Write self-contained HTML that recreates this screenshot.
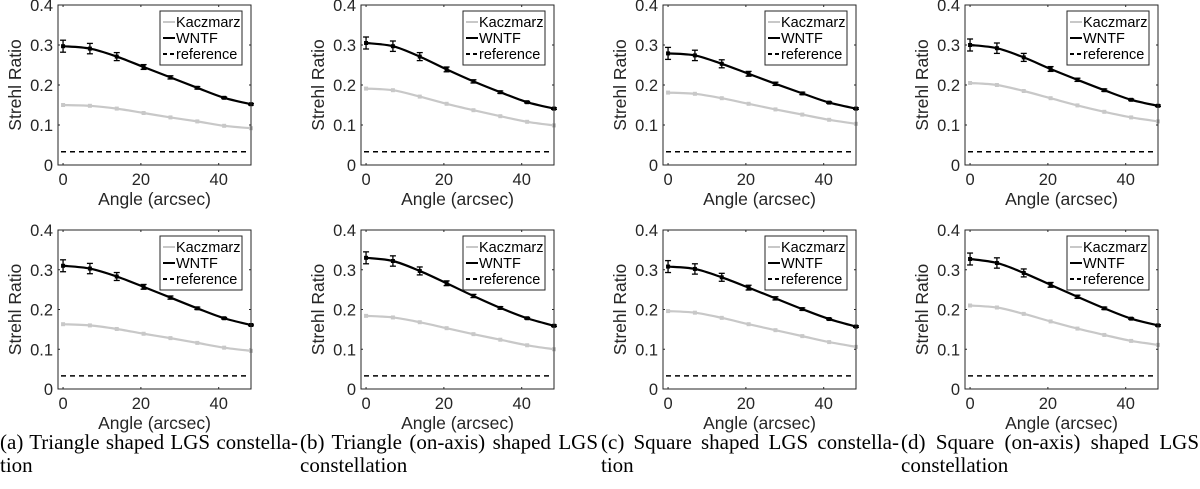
<!DOCTYPE html>
<html><head><meta charset="utf-8"><style>
body{margin:0;width:1200px;height:489px;background:#fff;overflow:hidden;position:relative}
svg{position:absolute;left:0;top:0}
.cap{position:absolute;width:298px;font-family:"Liberation Serif",serif;font-size:21px;line-height:23px;color:#000}
.cap .l1{text-align:justify;text-align-last:justify;white-space:nowrap;display:block}
.cap .l2{display:block}
</style></head><body>
<svg id="chart" width="1200" height="489"></svg>
<div class="cap" style="left:0;top:431px"><span class="l1">(a) Triangle shaped LGS constella-</span><span class="l2">tion</span></div>
<div class="cap" style="left:300px;top:431px"><span class="l1">(b) Triangle (on-axis) shaped LGS</span><span class="l2">constellation</span></div>
<div class="cap" style="left:601px;top:431px"><span class="l1">(c) Square shaped LGS constella-</span><span class="l2">tion</span></div>
<div class="cap" style="left:901px;top:431px"><span class="l1">(d) Square (on-axis) shaped LGS</span><span class="l2">constellation</span></div>
<script>
const angles=[0,6.9,13.8,20.7,27.6,34.5,41.4,48.3];
const xTicks=[0,20,40];
const yTicks=[0,0.1,0.2,0.3,0.4];
const yTickLabels=["0","0.1","0.2","0.3","0.4"];
const refValue=0.033;
const wntfA1=[.297,.291,.271,.245,.219,.193,.168,.152];
const kaczA1=[.150,.148,.141,.130,.119,.109,.098,.092];
const wntfB1=[.305,.297,.271,.239,.209,.182,.157,.141];
const kaczB1=[.191,.187,.171,.153,.137,.122,.108,.099];
const wntfC1=[.279,.274,.253,.228,.203,.179,.156,.141];
const kaczC1=[.181,.178,.167,.153,.139,.126,.113,.103];
const wntfD1=[.300,.292,.269,.240,.213,.187,.163,.148];
const kaczD1=[.205,.200,.185,.167,.149,.133,.119,.109];
const wntfA2=[.310,.303,.283,.257,.230,.203,.178,.161];
const kaczA2=[.163,.160,.151,.139,.128,.116,.104,.096];
const wntfB2=[.330,.322,.297,.266,.234,.204,.178,.159];
const kaczB2=[.184,.180,.168,.153,.138,.124,.110,.100];
const wntfC2=[.308,.302,.281,.255,.228,.201,.176,.157];
const kaczC2=[.196,.192,.179,.163,.148,.133,.118,.106];
const wntfD2=[.327,.317,.292,.262,.232,.203,.177,.160];
const kaczD2=[.210,.205,.189,.170,.152,.136,.121,.111];
const errW=[.015,.013,.010,.006,.004,.003,.002,.002];
const panels=[
 {id:'a1',L:58,T:5,B:165,w:wntfA1,k:kaczA1},{id:'b1',L:361,T:5,B:165,w:wntfB1,k:kaczB1},
 {id:'c1',L:663,T:5,B:165,w:wntfC1,k:kaczC1},{id:'d1',L:965,T:5,B:165,w:wntfD1,k:kaczD1},
 {id:'a2',L:58,T:230,B:389,w:wntfA2,k:kaczA2},{id:'b2',L:361,T:230,B:389,w:wntfB2,k:kaczB2},
 {id:'c2',L:663,T:230,B:389,w:wntfC2,k:kaczC2},{id:'d2',L:965,T:230,B:389,w:wntfD2,k:kaczD2}];
const svg=document.getElementById('chart');const NS='http://www.w3.org/2000/svg';
function mk(t,a,p){const e=document.createElementNS(NS,t);for(const k in a)e.setAttribute(k,a[k]);(p||svg).appendChild(e);return e;}
function path(pts){let d='M'+pts[0][0]+','+pts[0][1];for(let i=0;i<pts.length-1;i++){const p0=pts[Math.max(0,i-1)],p1=pts[i],p2=pts[i+1],p3=pts[Math.min(pts.length-1,i+2)];
 d+=' C'+(p1[0]+(p2[0]-p0[0])/6)+','+(p1[1]+(p2[1]-p0[1])/6)+' '+(p2[0]-(p3[0]-p1[0])/6)+','+(p2[1]-(p3[1]-p1[1])/6)+' '+p2[0]+','+p2[1];}return d;}
const F='"Liberation Sans",sans-serif';
panels.forEach(p=>{
 const W=193,xmin=-1.3,xmax=48.3;
 const sx=v=>p.L+(v-xmin)/(xmax-xmin)*W;const sy=v=>p.B-v/0.4*(p.B-p.T);
 const g=mk('g',{});
 
 
 const R=p.L+W;
 xTicks.forEach(t=>{const x=sx(t);mk('line',{x1:x,x2:x,y1:p.B,y2:p.B-2,stroke:'#262626'},g);mk('line',{x1:x,x2:x,y1:p.T,y2:p.T+2,stroke:'#262626'},g);
  const tx=mk('text',{x:x,y:p.B+20,'text-anchor':'middle','font-family':F,'font-size':16.5,fill:'#262626'},g);tx.textContent=t;});
 yTicks.forEach((t,i)=>{const y=sy(t);mk('line',{x1:p.L,x2:p.L+2,y1:y,y2:y,stroke:'#262626'},g);mk('line',{x1:R,x2:R-2,y1:y,y2:y,stroke:'#262626'},g);
  const tx=mk('text',{x:p.L-5,y:y+6,'text-anchor':'end','font-family':F,'font-size':16.5,fill:'#262626'},g);tx.textContent=yTickLabels[i];});
 const yl=mk('text',{x:0,y:0,transform:`translate(${p.L-37},${(p.T+p.B)/2}) rotate(-90)`,'text-anchor':'middle','font-family':F,'font-size':17.5,fill:'#262626'},g);yl.textContent='Strehl Ratio';
 
 const xl=mk('text',{x:p.L+W/2,y:p.B+40,'text-anchor':'middle','font-family':F,'font-size':17.5,fill:'#262626'},g);xl.textContent='Angle (arcsec)';
 
 mk('line',{x1:p.L+3,x2:R-2,y1:sy(refValue),y2:sy(refValue),stroke:'#000','stroke-width':1.5,'stroke-dasharray':'5,4'},g);
 const kp=angles.map((a,i)=>[sx(a),sy(p.k[i])]);
 mk('path',{d:path(kp),fill:'none',stroke:'#c8c8c8','stroke-width':2.2},g);
 kp.forEach(q=>mk('rect',{x:q[0]-2,y:q[1]-2,width:4,height:4,fill:'#c8c8c8'},g));
 const wp=angles.map((a,i)=>[sx(a),sy(p.w[i])]);
 mk('path',{d:path(wp),fill:'none',stroke:'#000','stroke-width':2.2},g);
 wp.forEach((q,i)=>{const e=errW[i];const y1=sy(p.w[i]+e),y2=sy(p.w[i]-e);
  mk('line',{x1:q[0],x2:q[0],y1:y1,y2:y2,stroke:'#000','stroke-width':1.3},g);
  mk('line',{x1:q[0]-3,x2:q[0]+3,y1:y1,y2:y1,stroke:'#000','stroke-width':1.3},g);
  mk('line',{x1:q[0]-3,x2:q[0]+3,y1:y2,y2:y2,stroke:'#000','stroke-width':1.3},g);
  mk('rect',{x:q[0]-2,y:q[1]-2,width:4,height:4,fill:'#000'},g);});
 mk('rect',{x:p.L,y:p.T,width:W,height:p.B-p.T,fill:'none',stroke:'#262626','stroke-width':1},g);
 const lg=mk('g',{},g);
 
 
 const lx=R-91,ly=p.T+6;
 mk('rect',{x:lx,y:ly,width:82,height:54,fill:'#fff',stroke:'#262626','stroke-width':1},lg);
 const items=[['Kaczmarz','#c8c8c8',''],['WNTF','#000',''],['reference','#000','4,3']];
 items.forEach((it,i)=>{const y=ly+11+i*16;
  mk('line',{x1:lx+3,x2:lx+15,y1:y,y2:y,stroke:it[1],'stroke-width':2,'stroke-dasharray':it[2]},lg);
  const t=mk('text',{x:lx+16,y:y+5,'font-family':F,'font-size':14.5,fill:'#000'},lg);t.textContent=it[0];});
});
</script>
</body></html>
